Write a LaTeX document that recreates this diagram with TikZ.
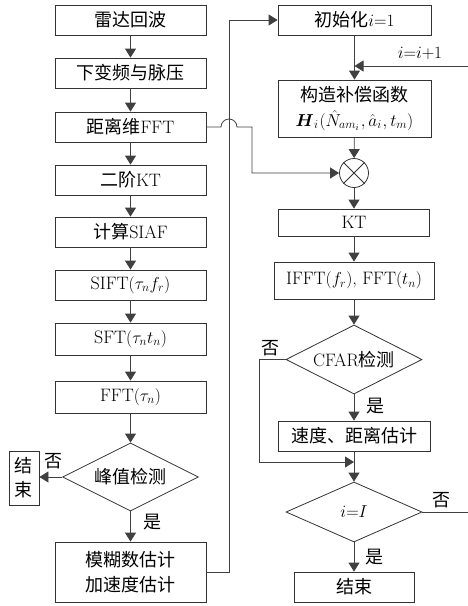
\documentclass[tikz,border=0pt]{standalone}
\usepackage{amsmath}
\usepackage{fontspec}
\newfontfamily\cjk{Noto Sans CJK SC}
\usetikzlibrary{shapes.geometric,arrows.meta}
\begin{document}
\begin{tikzpicture}[x=1pt,y=-1pt,
 font=\fontsize{18}{22}\selectfont,
 box/.style={draw=black!80,line width=0.8pt,minimum height=30pt,inner sep=0pt,align=center},
 dia/.style={draw=black!80,line width=0.8pt,diamond,aspect=2,inner sep=0pt,minimum width=136pt},
 conn/.style={draw=black!75,line width=0.8pt},
 arr/.style={conn,-{Triangle[length=9pt,width=11pt]}},
 lbl/.style={inner sep=0pt,font=\fontsize{18}{22}\selectfont\cjk},
 zh/.style={font=\fontsize{18}{24}\selectfont\cjk}
]
\useasboundingbox (0,0) rectangle (468,606);
% left column
\node[box,minimum width=151pt] (n1) at (130.5,20) {{\cjk 雷达回波}};
\node[box,minimum width=151pt] (n2) at (130.5,73) {{\cjk 下变频与脉压}};
\node[box,minimum width=151pt] (n3) at (130.5,127) {{\cjk 距离维}FFT};
\node[box,minimum width=151pt] (n4) at (130.5,180) {{\cjk 二阶}KT};
\node[box,minimum width=151pt] (n5) at (130.5,232) {{\cjk 计算}SIAF};
\node[box,minimum width=151pt] (n6) at (130.5,285) {SIFT$(\tau_n f_r)$};
\node[box,minimum width=151pt,minimum height=32pt] (n7) at (130.5,339) {SFT$(\tau_n t_n)$};
\node[box,minimum width=151pt,minimum height=32pt] (n8) at (130.5,397) {FFT$(\tau_n)$};
\node[dia,minimum height=68pt] (d1) at (130.5,477) {{\cjk 峰值检测}};
\node[box,zh,minimum width=30pt,minimum height=54pt] (e1) at (24,478) {结\\束};
\node[box,zh,font=\fontsize{18}{25}\selectfont\cjk,minimum width=151pt,minimum height=60pt] (n9) at (130.5,572) {模糊数估计\\加速度估计};
% right column
\node[box,font=\fontsize{18}{22}\selectfont,minimum width=153pt] (r1) at (354.5,20) {{\cjk 初始化}$i{=}1$};
\node[box,font=\fontsize{18}{25}\selectfont,minimum width=153pt,minimum height=57pt] (r2) at (354.5,108.5) {{\cjk 构造补偿函数}\\$\boldsymbol{H}_i\mkern1mu(\hat{N}_{am_i}\mkern1mu,\hat{a}_i\mkern1mu,t_m)$};
\node[draw=black!80,line width=0.8pt,circle,minimum size=29pt,inner sep=0pt] (x) at (354,173) {};
\draw[line width=0.8pt,black!80] (x.north east) -- (x.south west) (x.north west) -- (x.south east);
\node[box,minimum width=151pt,minimum height=27pt] (r3) at (354,222.5) {KT};
\node[box,minimum width=160pt,minimum height=37pt] (r4) at (354,280.5) {IFFT$(f_r)$, FFT$(t_n)$};
\node[dia,minimum height=69pt] (d2) at (354,359.5) {CFAR{\cjk 检测}};
\node[box,minimum width=152pt] (r5) at (354,436) {{\cjk 速度、距离估计}};
\node[dia,minimum height=60pt] (d3) at (354,512) {$i{=}I$};
\node[box,minimum width=120pt] (r6) at (354,587) {{\cjk 结束}};
% coordinates
\coordinate (bus) at (229,0);
\coordinate (hopa) at (221,127);
\coordinate (hopb) at (252,127);
\coordinate (iin) at (468,66);
\coordinate (bend) at (259,462);
\coordinate (join) at (354,462);
\coordinate (iout) at (468,512);
% connectors left
\draw[arr] (n1) -- (n2);
\draw[arr] (n2) -- (n3);
\draw[arr] (n3) -- (n4);
\draw[arr] (n4) -- (n5);
\draw[arr] (n5) -- (n6);
\draw[arr] (n6) -- (n7);
\draw[arr] (n7) -- (n8);
\draw[arr] (n8) -- (d1);
\draw[arr] (d1.west) -- (d1.west -| e1.east);
\draw[arr] (d1) -- (n9);
\draw[arr] (n9.east) -| (bus |- r1.west) -- (r1.west);
\draw[arr] (n3.east) -- (hopa) arc[start angle=180,end angle=0,radius=8pt] -- (hopb) |- (x.west);
% connectors right
\draw[arr] (r1) -- (r2);
\draw[arr] (iin) -- (iin -| r1.south);
\draw[arr] (r2) -- (x);
\draw[arr] (x) -- (r3);
\draw[arr] (r3) -- (r4);
\draw[arr] (r4) -- (d2);
\draw[arr] (d2) -- (r5);
\draw[arr] (r5) -- (d3);
\draw[arr] (d2.west) -| (bend) -- (join);
\draw[conn] (d3.east) -- (iout);
\draw[arr] (d3) -- (r6);
% labels
\node[inner sep=0pt] (lii) at (420,53) {$i{=}i{+}1$};
\node[lbl] (l1) at (54,461) {否};
\node[lbl] (l2) at (152,522) {是};
\node[lbl] (l3) at (270,348) {否};
\node[lbl] (l4) at (375,406) {是};
\node[lbl] (l5) at (441,500) {否};
\node[lbl] (l6) at (374,557) {是};
\end{tikzpicture}
\end{document}
